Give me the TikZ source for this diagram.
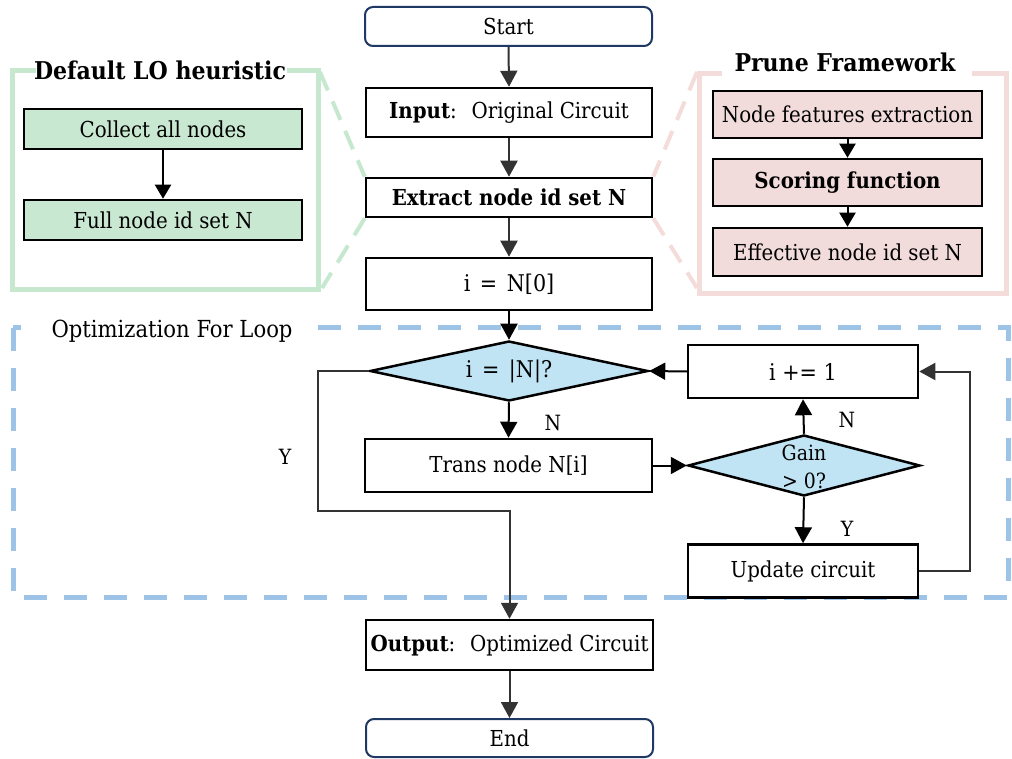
\documentclass[tikz,border=0pt]{standalone}
\usepackage{fontspec}
\setmainfont{DejaVu Serif Condensed}
\usetikzlibrary{shapes.geometric,arrows.meta,calc}
\definecolor{greencol}{HTML}{C6E8CF}
\definecolor{gfill}{HTML}{C9E8D1}
\definecolor{pinkcol}{HTML}{F3DCDA}
\definecolor{pfill}{HTML}{F2DCDB}
\definecolor{bluecol}{HTML}{9DC3E6}
\definecolor{dfill}{HTML}{C1E4F5}
\definecolor{navy}{HTML}{1F3864}
\definecolor{dgrey}{HTML}{333333}
\tikzset{
  txt/.style={font=\fontsize{22}{26}\selectfont},
  ttl/.style={font=\fontsize{24.5}{28}\selectfont\bfseries},
  lbl/.style={font=\fontsize{21}{24}\selectfont},
  box/.style={draw=black, line width=2.5pt, fill=white, inner sep=0pt, txt},
  term/.style={draw=navy, line width=2pt, rounded corners=8pt, fill=white, inner sep=0pt, txt},
  gbox/.style={box, fill=gfill},
  pbox/.style={box, fill=pfill},
  dia/.style={diamond, draw=black, line width=2.5pt, fill=dfill, inner sep=0pt},
  garrow/.style={draw=dgrey, line width=2pt, -{Triangle[length=16pt,width=17pt]}},
  barrow/.style={draw=black, line width=2pt, -{Triangle[length=16pt,width=17pt]}},
  sarrow/.style={draw=black, line width=2pt, -{Triangle[length=14pt,width=16pt]}},
  gzoom/.style={draw=greencol, line width=4pt, dash pattern=on 20pt off 12pt},
  pzoom/.style={draw=pinkcol, line width=4pt, dash pattern=on 20pt off 12pt},
}
\begin{document}
\begin{tikzpicture}[x=1pt,y=-1pt]
\useasboundingbox (0,0) rectangle (1012,759);

% optimization loop frame
\draw[draw=bluecol, line width=5pt, dash pattern=on 23pt off 17pt] (13,328) rectangle (1008,597);
\node[txt, font=\fontsize{23.5}{27}\selectfont, fill=white, inner xsep=25pt, inner ysep=4pt] (optl) at (172,331) {Optimization For Loop};

% left green frame
\draw[draw=greencol, line width=5pt] (36,71) -- (12,71) -- (12,290) -- (318,290) -- (318,71) -- (287,71);
\node[ttl] (gtitle) at (160,70) {Default LO heuristic};
\node[gbox, minimum width=278pt, minimum height=40pt] (collect) at (163,129) {Collect all nodes};
\node[gbox, minimum width=278pt, minimum height=40pt] (full) at (163,220) {Full node id set N};
\draw[sarrow] (collect.south) -- (full.north);

% right pink frame
\draw[draw=pinkcol, line width=5pt] (722,74) -- (699,74) -- (699,294) -- (1006,294) -- (1006,74) -- (972,74);
\node[ttl] (ptitle) at (845,62) {Prune Framework};
\node[pbox, minimum width=269pt, minimum height=47pt] (feat) at (847.5,114.5) {Node features extraction};
\node[pbox, minimum width=269pt, minimum height=47pt, font=\fontsize{22}{26}\selectfont\bfseries] (score) at (847.5,182.5) {Scoring function};
\node[pbox, minimum width=269pt, minimum height=48pt] (eff) at (847.5,252) {Effective node id set N};
\draw[sarrow] (feat.south) -- (score.north);
\draw[sarrow] (score.south) -- (eff.north);

% main column
\node[term, minimum width=287pt, minimum height=39pt] (start) at (508.5,26.5) {Start};
\node[box, minimum width=286pt, minimum height=49pt] (input) at (509,112.5) {\textbf{Input}:~ Original Circuit};
\node[box, minimum width=286pt, minimum height=39pt, font=\fontsize{22}{26}\selectfont\bfseries] (extract) at (509,197.5) {Extract node id set N};
\node[box, minimum width=286pt, minimum height=52pt, font=\fontsize{23}{27}\selectfont] (init) at (509,284) {i\hspace{3pt} = \hspace{3pt}N[0]};

% zoom dashed lines
\coordinate (gtr) at (320,72);
\coordinate (gbr) at (322,288);
\coordinate (ptl) at (697,72);
\coordinate (pbl) at (697,288);
\draw[gzoom] (gtr) -- (extract.north west);
\draw[gzoom] (extract.south west) -- (gbr);
\draw[pzoom] (ptl) -- (extract.north east);
\draw[pzoom] (extract.south east) -- (pbl);

\node[dia, minimum width=278pt, minimum height=60pt] (d1) at (509,371) {};
\node[txt, font=\fontsize{23}{27}\selectfont] (d1t) at (d1.center) {i\hspace{3pt} = \hspace{3pt}|N|?};
\node[box, minimum width=287pt, minimum height=53pt] (trans) at (508.5,465.5) {Trans node N[i]};
\node[box, minimum width=230pt, minimum height=53pt, font=\fontsize{23}{27}\selectfont] (inc) at (803,371.5) {i += 1};
\node[dia, minimum width=232pt, minimum height=61pt] (d2) at (804,465.5) {};
\node[txt, align=center, font=\fontsize{21}{28}\selectfont] (d2t) at (804,467) {Gain\\> 0?};
\node[box, minimum width=230pt, minimum height=53pt] (upd) at (803,571) {Update circuit};
\node[box, minimum width=287pt, minimum height=50pt] (output) at (509.5,645) {\textbf{Output}:~ Optimized Circuit};
\node[term, minimum width=287pt, minimum height=38pt] (end) at (509.5,738) {End};

% labels
\node[lbl] (ln1) at (553,423) {N};
\node[lbl] (ly1) at (285,457) {Y};
\node[lbl] (ln2) at (847,420) {N};
\node[lbl] (ly2) at (847,529) {Y};

% arrows
\draw[garrow] (start.south) -- (input.north);
\draw[garrow] (input.south) -- (extract.north);
\draw[garrow] (extract.south) -- (init.north);
\draw[barrow] (init.south) -- (d1.north);
\draw[barrow] (d1.south) -- (trans.north);
\draw[barrow] (trans.east) -- (d2.west);
\draw[barrow] (d2.north) -- (inc.south);
\draw[barrow] (d2.south) -- (upd.north);
\draw[barrow] (inc.west) -- (d1.east);
\coordinate (lp) at (970,371.5);
\draw[garrow] (upd.east) -| (lp) -- (inc.east);
\coordinate (ya) at (318,511);
\draw[garrow] (d1.west) -| (ya) -| (output.north);
\draw[garrow] (output.south) -- (end.north);
\end{tikzpicture}
\end{document}
